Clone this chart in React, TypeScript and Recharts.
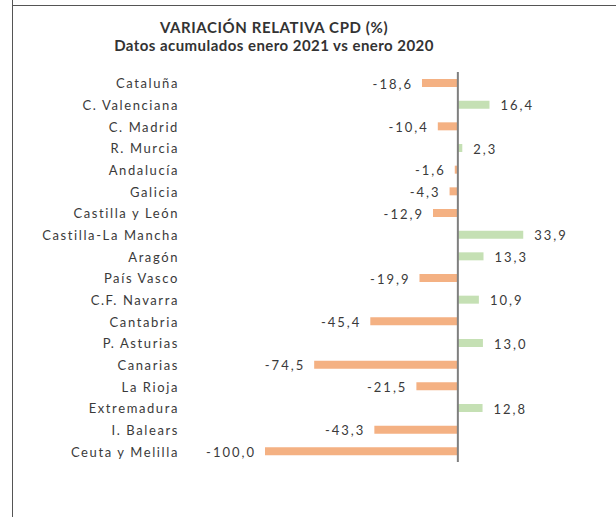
import React from "react";
import { BarChart, Bar, XAxis, YAxis, Cell, LabelList, ReferenceLine } from "recharts";

const categories = [
  "Cataluña", "C. Valenciana", "C. Madrid", "R. Murcia", "Andalucía", "Galicia",
  "Castilla y León", "Castilla-La Mancha", "Aragón", "País Vasco", "C.F. Navarra",
  "Cantabria", "P. Asturias", "Canarias", "La Rioja", "Extremadura", "I. Balears",
  "Ceuta y Melilla",
];
const values = [
  -18.6, 16.4, -10.4, 2.3, -1.6, -4.3, -12.9, 33.9, 13.3, -19.9, 10.9, -45.4, 13.0,
  -74.5, -21.5, 12.8, -43.3, -100.0,
];
const title = "VARIACIÓN RELATIVA CPD (%)";
const subtitle = "Datos acumulados enero 2021 vs enero 2020";

const data = categories.map((name, i) => ({ name, value: values[i] }));

const FONT = "Lato, 'Open Sans', sans-serif";
const TEXT = "#3a3a3a";

const fmt = (v: number) => v.toFixed(1).replace(".", ",");

const ValueLabel = (props: any) => {
  const { x, y, width, height, value } = props;
  const left = Math.min(x, x + width);
  const right = Math.max(x, x + width);
  const cy = y + height / 2;
  const neg = value < 0;
  return (
    <text
      x={neg ? left - 9 : right + 11}
      y={cy + 1}
      dy="0.35em"
      textAnchor={neg ? "end" : "start"}
      fontFamily={FONT}
      fontSize={13}
      letterSpacing={2}
      fill={TEXT}
    >
      {fmt(value)}
    </text>
  );
};

export default function App() {
  return (
    <div style={{ position: "absolute", left: 0, top: 0, width: 616, height: 517, background: "#fff" }}>
      <div style={{ position: "absolute", left: 12, top: 0, width: 1, height: 517, background: "#555" }} />
      <div style={{ position: "absolute", left: 12, top: 5, width: 604, height: 1, background: "#555" }} />
      <div
        style={{
          position: "absolute", left: 0, top: 18, width: 548, textAlign: "center",
          fontFamily: FONT, fontWeight: 700, fontSize: 15, color: "#333", lineHeight: "18px",
        }}
      >
        <div style={{ letterSpacing: 0.6 }}>{title}</div>
        <div style={{ letterSpacing: 0.45 }}>{subtitle}</div>
      </div>
      <BarChart
        width={616}
        height={517}
        data={data}
        layout="vertical"
        margin={{ top: 72, right: 81, bottom: 55, left: 0 }}
        barCategoryGap={0}
        style={{ position: "absolute", left: 0, top: 0 }}
      >
        <XAxis type="number" domain={[-100, 40]} hide allowDataOverflow />
        <YAxis
          type="category"
          dataKey="name"
          width={265}
          axisLine={false}
          tickLine={false}
          tickSize={0}
          tickMargin={86}
          interval={0}
          tick={{ fontFamily: FONT, fontSize: 13, fill: TEXT, letterSpacing: 1.6, dy: 1 } as any}
        />
        <Bar dataKey="value" barSize={8} isAnimationActive={false}>
          {data.map((d, i) => (
            <Cell key={i} fill={d.value < 0 ? "#F4B183" : "#C5E0B4"} />
          ))}
          <LabelList dataKey="value" content={ValueLabel} />
        </Bar>
        <ReferenceLine x={0} stroke="#7f7f7f" strokeWidth={2} ifOverflow="visible" />
      </BarChart>
    </div>
  );
}
